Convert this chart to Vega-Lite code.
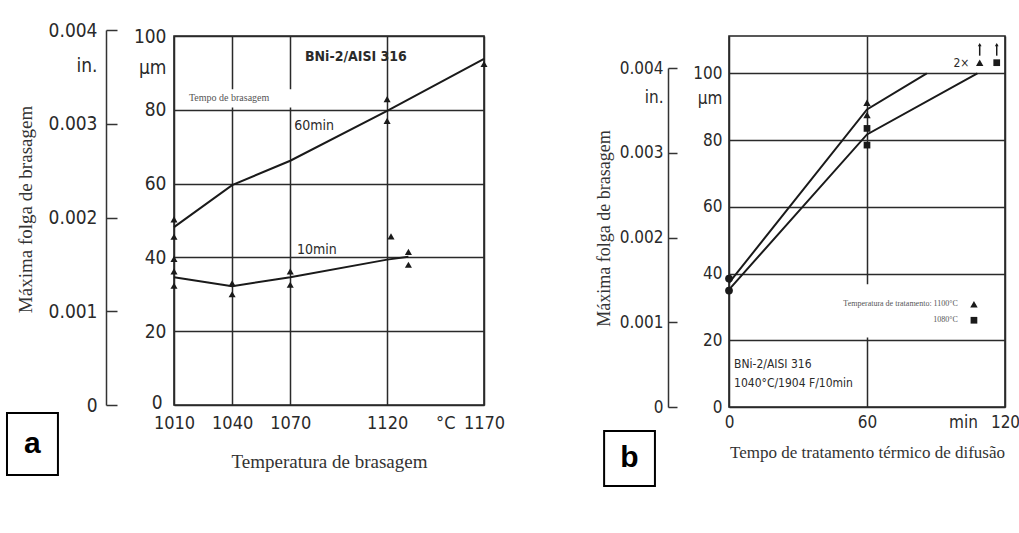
{
  "$schema": "https://vega.github.io/schema/vega-lite/v6.json",
  "background": "white",
  "padding": {"left": 5, "top": 20, "right": 5, "bottom": 5},
  "bounds": "flush",
  "spacing": 245,
  "config": {
    "view": {"stroke": "#222", "strokeWidth": 1.6},
    "axis": {"labelFont": "DejaVu Sans Condensed, Roboto Condensed, Liberation Sans Narrow, Roboto", "labelColor": "#2a2a2a", "titleFont": "Liberation Serif", "titleFontWeight": "normal", "titleColor": "#333"}
  },
  "datasets": {
    "a_lines": [
      {"serie": "60min", "temp_C": 1010, "folga_um": 48.2},
      {"serie": "60min", "temp_C": 1040, "folga_um": 59.6},
      {"serie": "60min", "temp_C": 1070, "folga_um": 66.2},
      {"serie": "60min", "temp_C": 1120, "folga_um": 79.7},
      {"serie": "60min", "temp_C": 1170, "folga_um": 93.8},
      {"serie": "10min", "temp_C": 1010, "folga_um": 34.6},
      {"serie": "10min", "temp_C": 1040, "folga_um": 32.2},
      {"serie": "10min", "temp_C": 1070, "folga_um": 34.6},
      {"serie": "10min", "temp_C": 1120, "folga_um": 39.4},
      {"serie": "10min", "temp_C": 1131, "folga_um": 40.2}
    ],
    "a_points": [
      {"temp_C": 1010, "folga_um": 50.3},
      {"temp_C": 1010, "folga_um": 45.6},
      {"temp_C": 1010, "folga_um": 39.6},
      {"temp_C": 1010, "folga_um": 36.2},
      {"temp_C": 1010, "folga_um": 32.3},
      {"temp_C": 1040, "folga_um": 33.0},
      {"temp_C": 1040, "folga_um": 30.0},
      {"temp_C": 1070, "folga_um": 36.2},
      {"temp_C": 1070, "folga_um": 32.6},
      {"temp_C": 1120, "folga_um": 82.9},
      {"temp_C": 1120, "folga_um": 77.0},
      {"temp_C": 1122, "folga_um": 45.7},
      {"temp_C": 1131, "folga_um": 41.5},
      {"temp_C": 1131, "folga_um": 38.0},
      {"temp_C": 1170, "folga_um": 92.4}
    ],
    "b_lines": [
      {"serie": "1100", "tempo_min": 0, "folga_um": 37.2},
      {"serie": "1100", "tempo_min": 60, "folga_um": 89.2},
      {"serie": "1100", "tempo_min": 86, "folga_um": 100},
      {"serie": "1080", "tempo_min": 0, "folga_um": 35.2},
      {"serie": "1080", "tempo_min": 60, "folga_um": 81.7},
      {"serie": "1080", "tempo_min": 108, "folga_um": 100}
    ],
    "b_tri": [
      {"tempo_min": 60, "folga_um": 91.2},
      {"tempo_min": 60, "folga_um": 87.5},
      {"tempo_min": 109, "folga_um": 103.2},
      {"tempo_min": 106.5, "folga_um": 30.8}
    ],
    "b_sq": [
      {"tempo_min": 60, "folga_um": 83.5},
      {"tempo_min": 60, "folga_um": 78.5},
      {"tempo_min": 116.4, "folga_um": 103.2},
      {"tempo_min": 106.5, "folga_um": 26.0}
    ],
    "b_circ": [
      {"tempo_min": 0, "folga_um": 38.5},
      {"tempo_min": 0, "folga_um": 34.9}
    ],
    "b_arrows": [
      {"tempo_min": 109, "folga_um": 105.3, "folga_um_end": 108.6},
      {"tempo_min": 116.4, "folga_um": 105.3, "folga_um_end": 108.6}
    ]
  },
  "hconcat": [
    {
      "width": 310,
      "height": 369,
      "layer": [
        {
          "data": {"values": [{"folga_in": 0}, {"folga_in": 0.004}]},
          "mark": {"type": "point", "opacity": 0},
          "encoding": {
            "y": {
              "field": "folga_in", "type": "quantitative",
              "scale": {"domain": [0, 0.004], "range": [369, -5.9], "nice": false, "zero": false},
              "axis": {
                "orient": "left", "offset": 68,
                "values": [0, 0.001, 0.002, 0.003, 0.004, 0.00362],
                "labelExpr": "datum.value == 0 ? '0' : (datum.value > 0.0035 && datum.value < 0.0039) ? 'in.  ' : format(datum.value, '.3f')",
                "tickSize": -11, "tickWidth": 1.5, "tickColor": "#333",
                "tickOpacity": {"condition": {"test": "datum.value > 0.0035 && datum.value < 0.0039", "value": 0}, "value": 1},
                "domainColor": "#333", "domainWidth": 1.5,
                "labelPadding": 20, "labelFontSize": 19, "labelOverlap": false, "labelFlush": false, "labelBound": false,
                "grid": false,
                "title": "Máxima folga de brasagem", "titleFontSize": 19, "titlePadding": 13, "titleY": 173
              }
            }
          }
        },
        {
          "layer": [
            {
              "data": {"values": [{"temp_C": 1011.5, "temp_C_end": 1072.5, "folga_um": 80.6, "folga_um_end": 85.6}]},
              "mark": {"type": "rect", "fill": "white"},
              "encoding": {
                "x": {
                  "field": "temp_C", "type": "quantitative",
                  "scale": {"domain": [1010, 1170], "nice": false, "zero": false},
                  "axis": {
                    "values": [1010, 1040, 1070, 1120, 1150, 1170], "format": "d",
                    "labelExpr": "datum.value == 1150 ? '°C' : datum.label",
                    "grid": true, "gridColor": "#2a2a2a", "gridWidth": 1.5,
                    "gridOpacity": {"condition": {"test": "datum.value == 1150", "value": 0}, "value": 1},
                    "ticks": false, "domain": false,
                    "labelPadding": 9, "labelFontSize": 18, "labelFlush": false, "labelOverlap": false,
                    "title": "Temperatura de brasagem", "titleFontSize": 19, "titlePadding": 20
                  }
                },
                "x2": {"field": "temp_C_end"},
                "y": {
                  "field": "folga_um", "type": "quantitative",
                  "scale": {"domain": [0, 100], "nice": false, "zero": false},
                  "axis": {
                    "orient": "left",
                    "values": [0, 20, 40, 60, 80, 91.5, 100],
                    "labelExpr": "datum.value == 91.5 ? 'µm' : datum.label",
                    "grid": true, "gridColor": "#2a2a2a", "gridWidth": 1.5,
                    "gridOpacity": {"condition": {"test": "datum.value == 91.5", "value": 0}, "value": 1},
                    "ticks": false, "domain": false,
                    "labelPadding": {"condition": {"test": "datum.value == 0", "value": 12}, "value": 8},
                    "labelOffset": {"condition": {"test": "datum.value == 0", "value": -3}, "value": 0},
                    "labelFontSize": 19, "labelOverlap": false, "labelFlush": false,
                    "title": null
                  }
                },
                "y2": {"field": "folga_um_end"}
              }
            },
            {
              "data": {"values": [{"temp_C": 923.8, "temp_C_end": 950.1, "folga_um": -2.2, "folga_um_end": -19.0}]},
              "mark": {"type": "rect", "fill": "white", "stroke": "black", "strokeWidth": 2},
              "encoding": {
                "x": {"field": "temp_C", "type": "quantitative"},
                "x2": {"field": "temp_C_end"},
                "y": {"field": "folga_um", "type": "quantitative"},
                "y2": {"field": "folga_um_end"}
              }
            },
            {
              "data": {"name": "a_lines"},
              "mark": {"type": "line", "color": "#1a1a1a", "strokeWidth": 2},
              "encoding": {
                "x": {"field": "temp_C", "type": "quantitative"},
                "y": {"field": "folga_um", "type": "quantitative"},
                "detail": {"field": "serie"}
              }
            },
            {
              "data": {"name": "a_points"},
              "mark": {"type": "point", "shape": "triangle-up", "filled": true, "size": 50, "color": "#1a1a1a", "opacity": 1},
              "encoding": {
                "x": {"field": "temp_C", "type": "quantitative"},
                "y": {"field": "folga_um", "type": "quantitative"}
              }
            },
            {
              "data": {"values": [{"temp_C": 1077.6, "folga_um": 94.3, "label": "BNi-2/AISI 316"}]},
              "mark": {"type": "text", "font": "DejaVu Sans Condensed, Roboto Condensed, Liberation Sans Narrow, Roboto", "fontWeight": "bold", "fontSize": 14, "align": "left", "baseline": "middle", "color": "#2a2a2a"},
              "encoding": {
                "x": {"field": "temp_C", "type": "quantitative"},
                "y": {"field": "folga_um", "type": "quantitative"},
                "text": {"field": "label"}
              }
            },
            {
              "data": {"values": [{"temp_C": 1072, "folga_um": 75.5, "label": "60min"}, {"temp_C": 1073.5, "folga_um": 42.1, "label": "10min"}]},
              "mark": {"type": "text", "font": "DejaVu Sans Condensed, Roboto Condensed, Liberation Sans Narrow, Roboto", "fontSize": 14, "align": "left", "baseline": "middle", "color": "#2a2a2a"},
              "encoding": {
                "x": {"field": "temp_C", "type": "quantitative"},
                "y": {"field": "folga_um", "type": "quantitative"},
                "text": {"field": "label"}
              }
            },
            {
              "data": {"values": [{"temp_C": 1017.7, "folga_um": 83.2, "label": "Tempo de brasagem"}]},
              "mark": {"type": "text", "font": "Liberation Serif", "fontSize": 10, "align": "left", "baseline": "middle", "color": "#555"},
              "encoding": {
                "x": {"field": "temp_C", "type": "quantitative"},
                "y": {"field": "folga_um", "type": "quantitative"},
                "text": {"field": "label"}
              }
            },
            {
              "data": {"values": [{"temp_C": 936.9, "folga_um": -10.6, "label": "a"}]},
              "mark": {"type": "text", "font": "Liberation Sans", "fontWeight": "bold", "fontSize": 30, "align": "center", "baseline": "middle", "color": "black"},
              "encoding": {
                "x": {"field": "temp_C", "type": "quantitative"},
                "y": {"field": "folga_um", "type": "quantitative"},
                "text": {"field": "label"}
              }
            }
          ]
        }
      ],
      "resolve": {"scale": {"y": "independent"}, "axis": {"y": "independent"}}
    },
    {
      "width": 276,
      "height": 371,
      "layer": [
        {
          "data": {"values": [{"folga_in": 0}, {"folga_in": 0.004}]},
          "mark": {"type": "point", "opacity": 0},
          "encoding": {
            "y": {
              "field": "folga_in", "type": "quantitative",
              "scale": {"domain": [0, 0.004], "range": [371, 32], "nice": false, "zero": false},
              "axis": {
                "orient": "left", "offset": 61,
                "values": [0, 0.001, 0.002, 0.003, 0.004, 0.00365],
                "labelExpr": "datum.value == 0 ? '0' : (datum.value > 0.0035 && datum.value < 0.0039) ? 'in.  ' : format(datum.value, '.3f')",
                "tickSize": -9, "tickWidth": 1.5, "tickColor": "#333",
                "tickOpacity": {"condition": {"test": "datum.value > 0.0035 && datum.value < 0.0039", "value": 0}, "value": 1},
                "domainColor": "#333", "domainWidth": 1.5,
                "labelPadding": 14, "labelFontSize": 17, "labelOverlap": false, "labelFlush": false, "labelBound": false,
                "grid": false,
                "title": "Máxima folga de brasagem", "titleFontSize": 18, "titlePadding": 6, "titleY": 192
              }
            }
          }
        },
        {
          "layer": [
            {
              "data": {"values": [{"tempo_min": 1, "tempo_min_end": 118.5, "folga_um": 20.8, "folga_um_end": 36.8}]},
              "mark": {"type": "rect", "fill": "white"},
              "encoding": {
                "x": {
                  "field": "tempo_min", "type": "quantitative",
                  "scale": {"domain": [0, 120], "nice": false, "zero": false},
                  "axis": {
                    "values": [0, 60, 101.7, 120], "format": "d",
                    "labelExpr": "datum.value == 101.7 ? 'min' : datum.label",
                    "grid": true, "gridColor": "#2a2a2a", "gridWidth": 1.5,
                    "gridOpacity": {"condition": {"test": "datum.value == 101.7", "value": 0}, "value": 1},
                    "ticks": false, "domain": false,
                    "labelPadding": 7, "labelFontSize": 17, "labelFlush": false, "labelOverlap": false,
                    "title": "Tempo de tratamento térmico de difusão", "titleFontSize": 17, "titlePadding": 14
                  }
                },
                "x2": {"field": "tempo_min_end"},
                "y": {
                  "field": "folga_um", "type": "quantitative",
                  "scale": {"domain": [0, 111.2], "nice": false, "zero": false},
                  "axis": {
                    "orient": "left",
                    "values": [0, 20, 40, 60, 80, 92.5, 100],
                    "labelExpr": "datum.value == 92.5 ? 'µm' : datum.label",
                    "grid": true, "gridColor": "#2a2a2a", "gridWidth": 1.5,
                    "gridOpacity": {"condition": {"test": "datum.value == 92.5", "value": 0}, "value": 1},
                    "ticks": false, "domain": false,
                    "labelPadding": 7, "labelFontSize": 17, "labelOverlap": false, "labelFlush": false,
                    "title": null
                  }
                },
                "y2": {"field": "folga_um_end"}
              }
            },
            {
              "data": {"values": [{"tempo_min": -54.3, "tempo_min_end": -32.2, "folga_um": -7.2, "folga_um_end": -23.7}]},
              "mark": {"type": "rect", "fill": "white", "stroke": "black", "strokeWidth": 2},
              "encoding": {
                "x": {"field": "tempo_min", "type": "quantitative"},
                "x2": {"field": "tempo_min_end"},
                "y": {"field": "folga_um", "type": "quantitative"},
                "y2": {"field": "folga_um_end"}
              }
            },
            {
              "data": {"name": "b_lines"},
              "mark": {"type": "line", "color": "#1a1a1a", "strokeWidth": 2},
              "encoding": {
                "x": {"field": "tempo_min", "type": "quantitative"},
                "y": {"field": "folga_um", "type": "quantitative"},
                "detail": {"field": "serie"}
              }
            },
            {
              "data": {"name": "b_arrows"},
              "mark": {"type": "rule", "color": "#1a1a1a", "strokeWidth": 1.5},
              "encoding": {
                "x": {"field": "tempo_min", "type": "quantitative"},
                "y": {"field": "folga_um", "type": "quantitative"},
                "y2": {"field": "folga_um_end"}
              }
            },
            {
              "data": {"name": "b_arrows"},
              "mark": {"type": "point", "shape": "triangle-up", "filled": true, "size": 14, "color": "#1a1a1a", "opacity": 1},
              "encoding": {
                "x": {"field": "tempo_min", "type": "quantitative"},
                "y": {"field": "folga_um_end", "type": "quantitative"}
              }
            },
            {
              "data": {"name": "b_tri"},
              "mark": {"type": "point", "shape": "triangle-up", "filled": true, "size": 55, "color": "#1a1a1a", "opacity": 1},
              "encoding": {
                "x": {"field": "tempo_min", "type": "quantitative"},
                "y": {"field": "folga_um", "type": "quantitative"}
              }
            },
            {
              "data": {"name": "b_sq"},
              "mark": {"type": "point", "shape": "square", "filled": true, "size": 45, "color": "#1a1a1a", "opacity": 1},
              "encoding": {
                "x": {"field": "tempo_min", "type": "quantitative"},
                "y": {"field": "folga_um", "type": "quantitative"}
              }
            },
            {
              "data": {"name": "b_circ"},
              "mark": {"type": "point", "shape": "circle", "filled": true, "size": 60, "color": "#1a1a1a", "opacity": 1},
              "encoding": {
                "x": {"field": "tempo_min", "type": "quantitative"},
                "y": {"field": "folga_um", "type": "quantitative"}
              }
            },
            {
              "data": {"values": [
                {"tempo_min": 2.2, "folga_um": 12.8, "label": "BNi-2/AISI 316"},
                {"tempo_min": 2.2, "folga_um": 7.1, "label": "1040°C/1904 F/10min"}
              ]},
              "mark": {"type": "text", "font": "DejaVu Sans Condensed, Roboto Condensed, Liberation Sans Narrow, Roboto", "fontSize": 12, "align": "left", "baseline": "middle", "color": "#2a2a2a"},
              "encoding": {
                "x": {"field": "tempo_min", "type": "quantitative"},
                "y": {"field": "folga_um", "type": "quantitative"},
                "text": {"field": "label"}
              }
            },
            {
              "data": {"values": [{"tempo_min": 104.5, "folga_um": 103.2, "label": "2×"}]},
              "mark": {"type": "text", "font": "DejaVu Sans Condensed, Roboto Condensed, Liberation Sans Narrow, Roboto", "fontSize": 12, "align": "right", "baseline": "middle", "color": "#2a2a2a"},
              "encoding": {
                "x": {"field": "tempo_min", "type": "quantitative"},
                "y": {"field": "folga_um", "type": "quantitative"},
                "text": {"field": "label"}
              }
            },
            {
              "data": {"values": [
                {"tempo_min": 99.5, "folga_um": 30.8, "label": "Temperatura de tratamento: 1100°C"},
                {"tempo_min": 99.5, "folga_um": 26.0, "label": "1080°C"}
              ]},
              "mark": {"type": "text", "font": "Liberation Serif", "fontSize": 8, "align": "right", "baseline": "middle", "color": "#555"},
              "encoding": {
                "x": {"field": "tempo_min", "type": "quantitative"},
                "y": {"field": "folga_um", "type": "quantitative"},
                "text": {"field": "label"}
              }
            },
            {
              "data": {"values": [{"tempo_min": -43.3, "folga_um": -15.4, "label": "b"}]},
              "mark": {"type": "text", "font": "Liberation Sans", "fontWeight": "bold", "fontSize": 30, "align": "center", "baseline": "middle", "color": "black"},
              "encoding": {
                "x": {"field": "tempo_min", "type": "quantitative"},
                "y": {"field": "folga_um", "type": "quantitative"},
                "text": {"field": "label"}
              }
            }
          ]
        }
      ],
      "resolve": {"scale": {"y": "independent"}, "axis": {"y": "independent"}}
    }
  ]
}
